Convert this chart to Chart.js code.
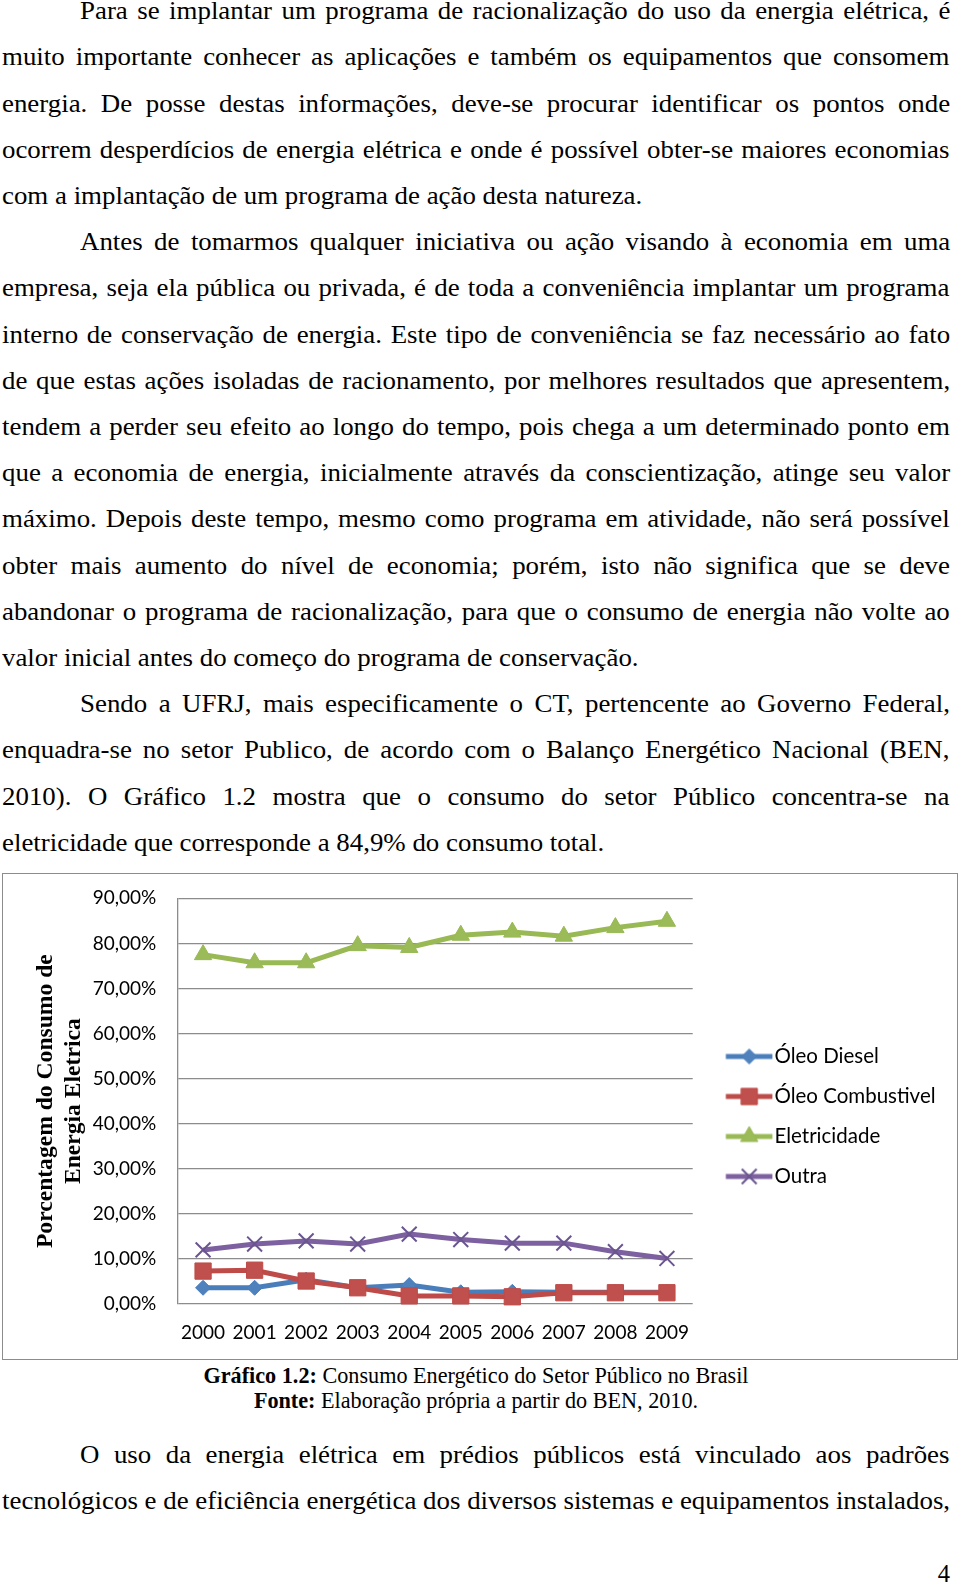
<!DOCTYPE html>
<html lang="pt">
<head>
<meta charset="utf-8">
<script src="https://cdn.jsdelivr.net/npm/chart.js@4/dist/chart.umd.min.js"></script>
<style>
html,body{margin:0;padding:0;background:#fff;}
body{width:960px;height:1590px;position:relative;overflow:hidden;font-family:"Liberation Serif","Times New Roman",serif;color:#000;}
.l{position:absolute;left:2px;width:864.2px;font-size:24.5px;line-height:30px;white-space:nowrap;text-align:left;transform:scaleX(1.097);transform-origin:0 0;}
.i{left:80px;width:793.1px;}
.cap{position:absolute;left:2px;width:948px;text-align:center;font-size:22.2px;line-height:26px;}
.pg{position:absolute;left:2px;width:948px;text-align:right;font-size:24.5px;line-height:30px;}
#box{position:absolute;left:2px;top:873px;width:954px;height:485px;border:1px solid #8c8c8c;}
#chart{position:absolute;left:0;top:0;}
</style>
</head>
<body>
<div class="l i j" style="top:-3.8px"><span>Para se implantar um programa de racionalização do uso da energia elétrica, é</span></div>
<div class="l j" style="top:42.4px"><span>muito importante conhecer as aplicações e também os equipamentos que consomem</span></div>
<div class="l j" style="top:88.6px"><span>energia. De posse destas informações, deve-se procurar identificar os pontos onde</span></div>
<div class="l j" style="top:134.8px"><span>ocorrem desperdícios de energia elétrica e onde é possível obter-se maiores economias</span></div>
<div class="l" style="top:181.0px"><span>com a implantação de um programa de ação desta natureza.</span></div>
<div class="l i j" style="top:227.2px"><span>Antes de tomarmos qualquer iniciativa ou ação visando à economia em uma</span></div>
<div class="l j" style="top:273.4px"><span>empresa, seja ela pública ou privada, é de toda a conveniência implantar um programa</span></div>
<div class="l j" style="top:319.6px"><span>interno de conservação de energia. Este tipo de conveniência se faz necessário ao fato</span></div>
<div class="l j" style="top:365.8px"><span>de que estas ações isoladas de racionamento, por melhores resultados que apresentem,</span></div>
<div class="l j" style="top:412.0px"><span>tendem a perder seu efeito ao longo do tempo, pois chega a um determinado ponto em</span></div>
<div class="l j" style="top:458.2px"><span>que a economia de energia, inicialmente através da conscientização, atinge seu valor</span></div>
<div class="l j" style="top:504.4px"><span>máximo. Depois deste tempo, mesmo como programa em atividade, não será possível</span></div>
<div class="l j" style="top:550.6px"><span>obter mais aumento do nível de economia; porém, isto não significa que se deve</span></div>
<div class="l j" style="top:596.8px"><span>abandonar o programa de racionalização, para que o consumo de energia não volte ao</span></div>
<div class="l" style="top:643.0px"><span>valor inicial antes do começo do programa de conservação.</span></div>
<div class="l i j" style="top:689.2px"><span>Sendo a UFRJ, mais especificamente o CT, pertencente ao Governo Federal,</span></div>
<div class="l j" style="top:735.4px"><span>enquadra-se no setor Publico, de acordo com o Balanço Energético Nacional (BEN,</span></div>
<div class="l j" style="top:781.6px"><span>2010). O Gráfico 1.2 mostra que o consumo do setor Público concentra-se na</span></div>
<div class="l" style="top:827.8px"><span>eletricidade que corresponde a 84,9% do consumo total.</span></div>

<div id="box"><canvas id="chart" width="954" height="485"></canvas></div>

<div class="cap" style="top:1363.1px"><b>Gráfico 1.2:</b> Consumo Energético do Setor Público no Brasil</div>
<div class="cap" style="top:1388.1px"><b>Fonte:</b> Elaboração própria a partir do BEN, 2010.</div>

<div class="l i j" style="top:1440.2px"><span>O uso da energia elétrica em prédios públicos está vinculado aos padrões</span></div>
<div class="l j" style="top:1486.2px"><span>tecnológicos e de eficiência energética dos diversos sistemas e equipamentos instalados,</span></div>
<div class="pg" style="top:1558.9px">4</div>

<script>
// justify each single text line exactly to its box (layout only)
document.querySelectorAll('.l.j').forEach(el => {
  const span = el.firstElementChild;
  const target = el.clientWidth;
  const natural = span.offsetWidth;
  const gaps = (span.textContent.match(/ /g) || []).length;
  if (gaps > 0) el.style.wordSpacing = ((target - natural) / gaps) + 'px';
});
</script>

<script>
// ---- data ----
const years = ['2000','2001','2002','2003','2004','2005','2006','2007','2008','2009'];
const seriesNames = ['Óleo Diesel','Óleo Combustivel','Eletricidade','Outra'];
const oleoDiesel = [3.6, 3.6, 5.4, 3.6, 4.2, 2.6, 2.7, 2.6, 2.6, 2.6];
const oleoCombustivel = [7.3, 7.5, 5.1, 3.6, 1.8, 1.8, 1.6, 2.5, 2.5, 2.5];
const eletricidade = [77.5, 75.7, 75.7, 79.5, 79.1, 81.8, 82.5, 81.6, 83.5, 84.9];
const outra = [12.0, 13.3, 14.0, 13.3, 15.5, 14.3, 13.5, 13.5, 11.6, 10.1];
const yTickValues = [0, 10, 20, 30, 40, 50, 60, 70, 80, 90];
const yTickLabels = ['0,00%','10,00%','20,00%','30,00%','40,00%','50,00%','60,00%','70,00%','80,00%','90,00%'];
const yTitle = ['Porcentagem do Consumo de', 'Energia Eletrica'];

// ---- styles / layout ----
const styles = [
  {line:'#4A7EBB', fill:'#4F81BD', border:'#4A7EBB', point:'rectRot', r:7.5, bw:1},
  {line:'#BE4B48', fill:'#C0504D', border:'#BE4B48', point:'rect', r:11.5, bw:1},
  {line:'#98B954', fill:'#9BBB59', border:'#98B954', point:'triangle', r:10, bw:1},
  {line:'#7D60A0', fill:'#7D60A0', border:'#6A5590', point:'crossRot', r:10.5, bw:2}
];
const gridColor = '#8c8c8c';
const CANVAS_W = 954;
const PLOT_RIGHT = 689.7;
const LEG_FONT = 20.5, LEG_PAD = 19.5, LEG_BOX = 52;

function makeIcon(s){
  const c = document.createElement('canvas');
  c.width = 70; c.height = 24;
  const g = c.getContext('2d');
  g.strokeStyle = s.line; g.lineWidth = 5;
  g.beginPath(); g.moveTo(22.6, 12); g.lineTo(69.2, 12); g.stroke();
  g.fillStyle = s.fill; g.strokeStyle = s.border; g.lineWidth = s.bw;
  Chart.helpers.drawPoint(g, {pointStyle:s.point, radius:s.r, rotation:0, borderWidth:s.bw}, 46, 12);
  return c;
}
const icons = styles.map(makeIcon);

// legend width -> right padding so the plot ends where the reference plot ends
const mctx = document.createElement('canvas').getContext('2d');
mctx.font = LEG_FONT + 'px Lato';
const maxText = Math.max(...seriesNames.map(n => mctx.measureText(n).width));
const legendW = LEG_PAD + LEG_BOX + LEG_FONT / 2 + maxText + 10;
const padRight = Math.max(0, CANVAS_W - PLOT_RIGHT - legendW);

const seriesData = [oleoDiesel, oleoCombustivel, eletricidade, outra];
const datasets = seriesData.map((d, i) => ({
  label: seriesNames[i],
  data: d,
  borderColor: styles[i].line,
  backgroundColor: styles[i].fill,
  borderWidth: 5,
  tension: 0,
  pointStyle: styles[i].point,
  pointRadius: styles[i].r,
  pointHoverRadius: styles[i].r,
  pointBackgroundColor: styles[i].fill,
  pointBorderColor: styles[i].border,
  pointBorderWidth: styles[i].bw,
  order: seriesData.length - 1 - i,
  clip: false
}));

const baseGen = Chart.defaults.plugins.legend.labels.generateLabels;

new Chart(document.getElementById('chart'), {
  type: 'line',
  data: { labels: years, datasets: datasets },
  options: {
    responsive: false,
    animation: false,
    events: [],
    layout: { padding: { left: 0, top: 0, right: padRight, bottom: 0 } },
    plugins: {
      tooltip: { enabled: false },
      title: { display: true, text: '', fullSize: false, padding: 0, font: { size: 10, lineHeight: '24.3px' } },
      legend: {
        position: 'right',
        align: 'center',
        maxWidth: 400,
        labels: {
          usePointStyle: true,
          pointStyleWidth: LEG_BOX,
          padding: LEG_PAD,
          color: '#000',
          font: { family: 'Lato', size: LEG_FONT },
          sort: (a, b) => a.datasetIndex - b.datasetIndex,
          generateLabels(chart) {
            const items = baseGen(chart);
            items.forEach(it => { it.pointStyle = icons[it.datasetIndex]; it.lineWidth = 0; });
            return items;
          }
        }
      }
    },
    scales: {
      x: {
        offset: true,
        grid: { display: false, drawTicks: false },
        border: { display: false },
        ticks: { color: '#000', font: { family: 'Lato', size: 19 }, padding: 17, maxRotation: 0, autoSkip: false },
        afterFit(s) { s.height = 55; }
      },
      y: {
        min: yTickValues[0],
        max: yTickValues[yTickValues.length - 1],
        afterBuildTicks(s) { s.ticks = yTickValues.map(v => ({ value: v })); },
        ticks: {
          color: '#000',
          font: { family: 'Lato', size: 19 },
          padding: 0,
          callback: (v) => yTickLabels[yTickValues.indexOf(v)]
        },
        grid: { color: gridColor, lineWidth: 1.3, drawTicks: true, tickLength: 21, tickColor: 'rgba(0,0,0,0)' },
        border: { display: true, color: gridColor, width: 1.3 },
        title: {
          display: true,
          text: yTitle,
          color: '#000',
          font: { family: 'Liberation Serif', size: 23.6, weight: 'bold', lineHeight: 1.17 },
          padding: { top: 29, bottom: 0 }
        },
        afterFit(s) { s.width = 174.3; }
      }
    }
  }
});
</script>
</body>
</html>
